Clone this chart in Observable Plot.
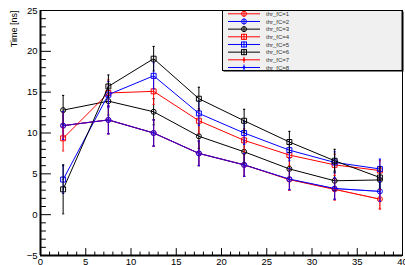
<!DOCTYPE html>
<html>
<head>
<meta charset="utf-8">
<script src="https://cdn.jsdelivr.net/npm/d3@7"></script>
<script src="https://cdn.jsdelivr.net/npm/@observablehq/plot@0.6"></script>
<style>
  html, body { margin: 0; padding: 0; background: #fff; }
  #wrap { position: relative; width: 405px; height: 265px; overflow: hidden; }
  #legend { position: absolute; left: 0; top: 0; }
</style>
</head>
<body>
<div id="wrap"></div>
<script>
const xs = [2.5, 7.5, 12.5, 17.5, 22.5, 27.5, 32.5, 37.5];
const labels = ["thr_fC=1","thr_fC=2","thr_fC=3","thr_fC=4","thr_fC=5","thr_fC=6","thr_fC=7","thr_fC=8"];
const colors = ["#ff0000","#0000ff","#000000","#ff0000","#0000ff","#000000","#ff0000","#0000ff"];
const shapes = ["circle","circle","circle","square","square","square","dot","dot"];

const fc1 = [10.9, 11.6, 10.0, 7.5, 6.1, 4.3, 3.1, 1.9];
const fc2 = [10.9, 11.6, 10.0, 7.5, 6.1, 4.35, 3.2, 2.85];
const fc3 = [12.8, 13.9, 12.6, 9.6, 7.7, 5.6, 4.15, 4.25];
const fc4 = [9.35, 14.9, 15.1, 11.5, 9.1, 7.3, 6.1, 5.4];
const fc5 = [4.3, 14.7, 17.0, 12.4, 10.0, 7.9, 6.4, 5.6];
const fc6 = [3.1, 15.7, 19.1, 14.2, 11.5, 8.9, 6.6, 4.55];
const fc7 = [10.9, 11.6, 10.0, 7.5, 6.1, 4.3, 3.1, 1.9];
const fc8 = [10.9, 11.6, 10.0, 7.5, 6.1, 4.35, 3.2, 2.85];

const err1 = [1.7, 1.7, 1.6, 1.5, 1.4, 1.3, 1.3, 1.2];
const err2 = [1.7, 1.7, 1.6, 1.5, 1.4, 1.3, 1.3, 1.2];
const err3 = [1.8, 1.7, 1.6, 1.5, 1.4, 1.3, 1.2, 1.2];
const err4 = [1.55, 1.6, 1.6, 1.5, 1.4, 1.3, 1.3, 1.2];
const err5 = [1.7, 1.6, 1.6, 1.5, 1.4, 1.3, 1.3, 1.2];
const err6 = [3.0, 1.4, 1.5, 1.4, 1.4, 1.3, 1.4, 1.3];
const err7 = [1.7, 1.7, 1.6, 1.5, 1.4, 1.3, 1.3, 1.2];
const err8 = [1.7, 1.7, 1.6, 1.5, 1.4, 1.3, 1.3, 1.2];

const xTicks = [0, 5, 10, 15, 20, 25, 30, 35, 40];
const yTicks = [-5, 0, 5, 10, 15, 20, 25];
const xMinor = d3.range(0, 41, 1).filter(v => v % 5 !== 0);
const yMinor = d3.range(-5, 26, 1).filter(v => v % 5 !== 0);

const values = [fc1, fc2, fc3, fc4, fc5, fc6, fc7, fc8];
const errors = [err1, err2, err3, err4, err5, err6, err7, err8];

const tickShape = { draw(ctx, l) { ctx.moveTo(0, 0); ctx.lineTo(0, -l); } };
const capSymbol = { draw(ctx, size) { const w = Math.sqrt(size / Math.PI); ctx.moveTo(-w, 0); ctx.lineTo(w, 0); } };

const seriesMarks = [];
values.forEach((vals, i) => {
  const rows = xs.map((x, j) => ({ x, y: vals[j], e: errors[i][j] }));
  const c = colors[i];
  const op = i >= 6 ? 0.55 : 1;
  seriesMarks.push(Plot.line(rows, { x: "x", y: "y", stroke: c, strokeWidth: 1, strokeOpacity: op }));
  seriesMarks.push(Plot.ruleX(rows, { x: "x", y1: d => d.y - d.e, y2: d => d.y + d.e, stroke: c, strokeWidth: 1, strokeOpacity: op }));
  seriesMarks.push(Plot.dot(rows, { x: "x", y: d => d.y + d.e, symbol: capSymbol, r: 1.1, stroke: c, strokeWidth: 1 }));
  seriesMarks.push(Plot.dot(rows, { x: "x", y: d => d.y - d.e, symbol: capSymbol, r: 1.1, stroke: c, strokeWidth: 1 }));
  if (shapes[i] === "dot") {
    seriesMarks.push(Plot.dot(rows, { x: "x", y: "y", symbol: "circle", r: 1.0, fill: c }));
  } else {
    seriesMarks.push(Plot.dot(rows, { x: "x", y: "y", symbol: shapes[i], r: shapes[i] === "square" ? 2.8 : 2.5, stroke: c, strokeWidth: 1, fill: "none" }));
  }
});

const chart = Plot.plot({
  width: 405,
  height: 265,
  marginLeft: 40,
  marginRight: 3,
  marginTop: 10,
  marginBottom: 10,
  style: { fontFamily: "Liberation Sans, Arial, sans-serif", fontSize: "9.5px", color: "#000", background: "#fff", overflow: "visible" },
  x: { domain: [0, 40] },
  y: { domain: [-5, 25] },
  marks: [
    Plot.axisY({ ticks: yTicks, tickSize: 0, tickPadding: 3, label: null, fontSize: 9.5 }),
    Plot.axisX({ ticks: xTicks, tickSize: 0, tickPadding: 3, label: null, fontSize: 9.5 }),
    Plot.frame({ stroke: "#000", strokeWidth: 1 }),
    Plot.vector(yTicks, { x: () => 0, y: d => d, length: 10, rotate: 90, anchor: "start", shape: tickShape, stroke: "#000", strokeWidth: 1 }),
    Plot.vector(yMinor, { x: () => 0, y: d => d, length: 5, rotate: 90, anchor: "start", shape: tickShape, stroke: "#000", strokeWidth: 1 }),
    Plot.vector(xTicks, { x: d => d, y: () => -5, length: 7, rotate: 0, anchor: "start", shape: tickShape, stroke: "#000", strokeWidth: 1 }),
    Plot.vector(xMinor, { x: d => d, y: () => -5, length: 3.5, rotate: 0, anchor: "start", shape: tickShape, stroke: "#000", strokeWidth: 1 }),
    Plot.ruleX([0], { stroke: "#000", strokeWidth: 2 }),
    Plot.ruleY([-5], { stroke: "#000", strokeWidth: 2 }),
    ...seriesMarks,
    Plot.text(["Time [ns]"], { frameAnchor: "top-left", rotate: -90, textAnchor: "end", lineAnchor: "middle", dx: -26, fontSize: 9, fill: "#000" })
  ]
});

const wrap = document.getElementById("wrap");
wrap.appendChild(chart);

// Legend (drawn inside the plot area like the ROOT TLegend)
const lg = d3.select(wrap).append("svg")
  .attr("id", "legend")
  .attr("width", 405).attr("height", 265)
  .style("font-family", "Liberation Sans, Arial, sans-serif");
lg.append("rect").attr("x", 223.5).attr("y", 11.5).attr("width", 180).attr("height", 60).attr("fill", "#000");
lg.append("rect").attr("x", 222.5).attr("y", 10.5).attr("width", 179.5).attr("height", 60).attr("fill", "#f0f0f0").attr("stroke", "#000").attr("stroke-width", 1);
labels.forEach((lab, i) => {
  const cy = 13.8 + i * 7.67;
  const c = colors[i];
  const g = lg.append("g");
  g.append("line").attr("x1", 228).attr("x2", 260).attr("y1", cy).attr("y2", cy).attr("stroke", c).attr("stroke-width", 1);
  g.append("line").attr("x1", 244).attr("x2", 244).attr("y1", cy - 3).attr("y2", cy + 3).attr("stroke", c).attr("stroke-width", 1);
  if (shapes[i] === "circle") {
    g.append("circle").attr("cx", 244).attr("cy", cy).attr("r", 2.5).attr("fill", "none").attr("stroke", c);
  } else if (shapes[i] === "square") {
    g.append("rect").attr("x", 241.5).attr("y", cy - 2.5).attr("width", 5).attr("height", 5).attr("fill", "none").attr("stroke", c);
  } else {
    g.append("circle").attr("cx", 244).attr("cy", cy).attr("r", 1.3).attr("fill", c);
  }
  g.append("text").attr("x", 266).attr("y", cy).attr("dy", "0.35em").attr("font-size", 6).attr("fill", "#333").text(lab);
});
</script>
</body>
</html>
